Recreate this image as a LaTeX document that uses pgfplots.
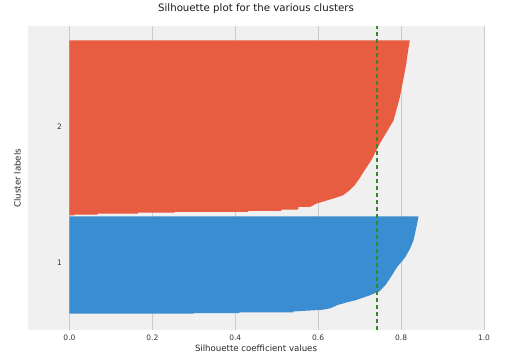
\documentclass[border=0pt]{standalone}
\usepackage{pgfplots}
\pgfplotsset{compat=1.18}
\usepackage{fontspec}
\setmainfont{DejaVu Sans}
\definecolor{bgc}{HTML}{F0F0F0}
\definecolor{gridc}{HTML}{CBCBCB}
\definecolor{redc}{HTML}{E85C41}
\definecolor{bluec}{HTML}{3B8DD1}
\definecolor{avgc}{HTML}{348A26}
\definecolor{txtc}{HTML}{333333}
\begin{document}
\begin{tikzpicture}
\path (-28pt,-31pt) rectangle (484pt,330pt);
\begin{axis}[
  name=ax, at={(0,0)}, anchor=south west,
  scale only axis, width=456pt, height=304pt,
  xmin=-0.1, xmax=1, ymin=0, ymax=304,
  axis background/.style={fill=bgc},
  axis line style={draw=none},
  major tick length=0pt,
  xtick={0,0.2,0.4,0.6,0.8,1.0},
  xticklabels={0.0,0.2,0.4,0.6,0.8,1.0},
  ytick=\empty,
  xmajorgrids,
  grid style={color=gridc, line width=0.9pt},
  tick label style={font=\fontsize{7.5}{8}\selectfont, text=txtc},
  xticklabel style={anchor=center, yshift=-7.5pt},
  title={Silhouette plot for the various clusters},
  title style={font=\fontsize{10.2}{12}\selectfont, text=black!90, at={(axis description cs:0.5,1)}, anchor=center, yshift=12pt},
  xlabel={Silhouette coefficient values},
  xlabel style={font=\fontsize{8.6}{10}\selectfont, text=black!85, at={(axis description cs:0.5,0)}, anchor=center, yshift=-18.5pt},
  ylabel={Cluster labels},
  ylabel style={font=\fontsize{8.6}{10}\selectfont, text=black!85, at={(axis description cs:-0.008,0.5)}, anchor=south},
  clip=false,
]
% cluster 1 (blue)
\addplot[fill=bluec, draw=none] coordinates {
(0,16.7) (0.30,16.7) (0.30,17.2) (0.41,17.2) (0.41,17.8) (0.54,17.8) (0.54,18.8)
(0.61,20.5) (0.63,22) (0.645,25) (0.67,28) (0.69,30) (0.725,35) (0.748,39) (0.762,45)
(0.775,53) (0.79,63) (0.81,73) (0.822,82) (0.83,90) (0.838,105) (0.842,114) (0,114)
} -- cycle;
% cluster 2 (red)
\addplot[fill=redc, draw=none] coordinates {
(0,115) (0.012,115) (0.012,115.7) (0.068,115.7) (0.068,116.7) (0.165,116.7)
(0.165,117.7) (0.254,117.7) (0.254,118.3) (0.431,118.3) (0.431,119.3) (0.511,119.3)
(0.511,120.7) (0.552,120.7) (0.552,123.3) (0.58,123.3) (0.596,126.7) (0.636,131.7)
(0.660,135) (0.676,140) (0.688,145) (0.70,152) (0.712,160) (0.728,170) (0.749,187)
(0.765,198) (0.782,210) (0.797,233) (0.805,250) (0.812,265) (0.817,280) (0.821,290) (0,290)
} -- cycle;
% average silhouette score
\addplot[color=avgc, line width=1.1pt, dash pattern=on 4.5pt off 2.5pt] coordinates {(0.742,0) (0.742,304)};
\node[font=\fontsize{7.5}{8}\selectfont, text=txtc] at (axis cs:-0.024,68) {1};
\node[font=\fontsize{7.5}{8}\selectfont, text=txtc] at (axis cs:-0.024,204) {2};
\end{axis}
\end{tikzpicture}
\end{document}
